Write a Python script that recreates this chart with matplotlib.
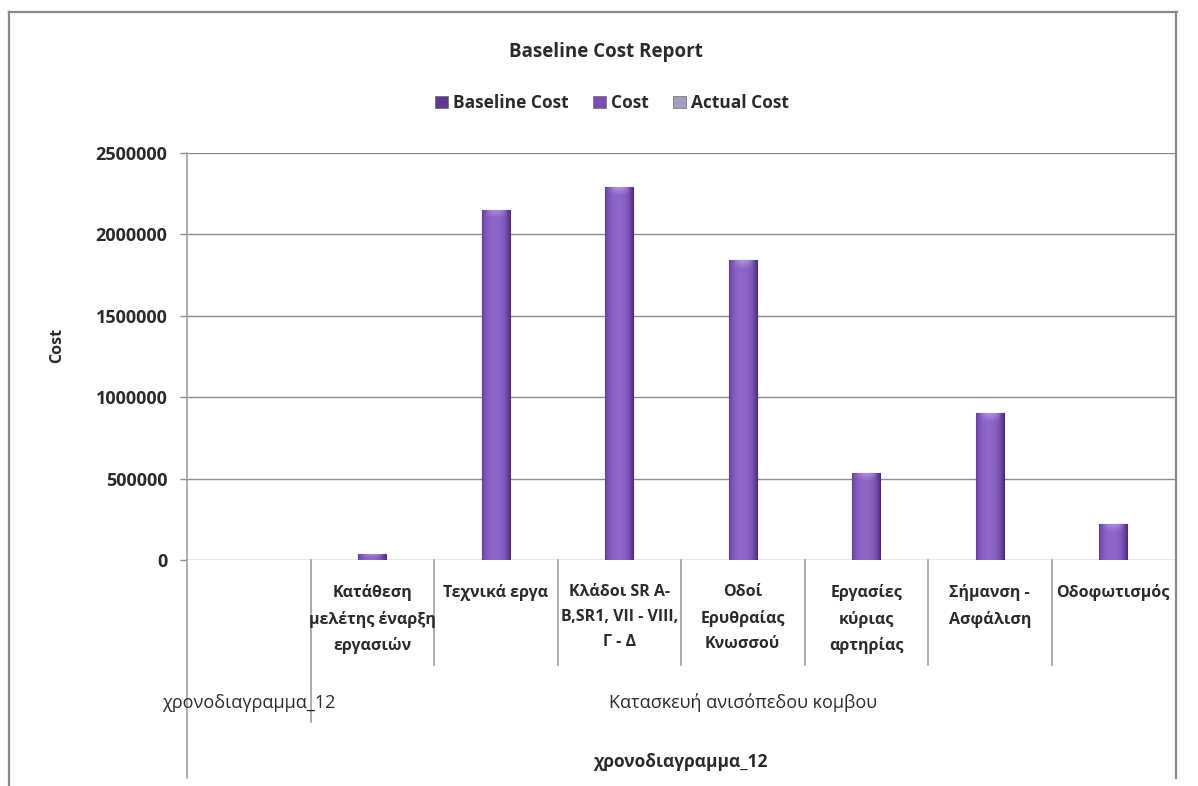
import numpy as np
import matplotlib
matplotlib.use("Agg")
import matplotlib.pyplot as plt
from matplotlib.patches import Patch
from matplotlib.lines import Line2D
from matplotlib.transforms import blended_transform_factory
from matplotlib.colors import to_rgb

plt.rcParams["font.family"] = ["Open Sans", "DejaVu Sans"]

# ---- data -------------------------------------------------------------
categories = [
    "",
    "Κατάθεση\nμελέτης έναρξη\nεργασιών",
    "Τεχνικά εργα",
    "Κλάδοι SR Α-\nΒ,SR1, VII - VIII,\nΓ - Δ",
    "Οδοί\nΕρυθραίας\nΚνωσσού",
    "Εργασίες\nκύριας\nαρτηρίας",
    "Σήμανση -\nΑσφάλιση",
    "Οδοφωτισμός",
]
cost = [0, 37000, 2150000, 2290000, 1840000, 535000, 900000, 222000]
y_ticks = [0, 500000, 1000000, 1500000, 2000000, 2500000]
group_labels = ["χρονοδιαγραμμα_12", "Κατασκευή ανισόπεδου κομβου"]
group_spans = [(0, 0), (1, 7)]
top_group_label = "χρονοδιαγραμμα_12"
series_names = ["Baseline Cost", "Cost", "Actual Cost"]
series_colors = ["#60388f", "#7b4fb4", "#a49cbf"]

# ---- figure -----------------------------------------------------------
W, H = 1198, 786
fig = plt.figure(figsize=(W / 100, H / 100), dpi=100)


def fx(px):
    return px / W


def fy(py):
    return 1 - py / H


LEFT, RIGHT, TOP, BOTTOM = 187, 1175, 153, 560
ax = fig.add_axes([fx(LEFT), fy(BOTTOM), fx(RIGHT) - fx(LEFT), fy(TOP) - fy(BOTTOM)])

x = np.arange(len(categories))
bars = ax.bar(x, cost, width=0.23, color=series_colors[1],
              edgecolor="#4a2a72", linewidth=0.8, zorder=3)

# cylinder-like shading on each bar
dark = np.array(to_rgb("#4c2c78"))
mid = np.array(to_rgb("#7d54b8"))
light = np.array(to_rgb("#8e68c8"))
cap = np.array(to_rgb("#b89ee6"))
px_per_unit = (BOTTOM - TOP) / (y_ticks[-1] - y_ticks[0])
for b in bars:
    h = b.get_height()
    if h <= 0:
        b.set_edgecolor("none")
        continue
    x0, w = b.get_x(), b.get_width()
    hp = max(int(round(h * px_per_unit)), 2)
    t = np.linspace(0, 1, 40)
    prof = np.clip(1 - (np.abs(t - 0.45) / 0.55) ** 2, 0, 1)
    row = np.where(prof[:, None] < 0.6,
                   dark + (mid - dark) * (prof[:, None] / 0.6),
                   mid + (light - mid) * ((prof[:, None] - 0.6) / 0.4))
    img = np.repeat(row[None, :, :], hp, axis=0)
    # lighter cap near the top
    capn = min(8, hp // 2)
    shape = np.clip(1 - (np.abs(t - 0.5) / 0.38) ** 2, 0, 1)[:, None]
    for k in range(capn):
        a = (1 - k / max(capn, 1)) * 0.75
        img[k] = img[k] * (1 - a * shape) + cap * (a * shape)
    im = ax.imshow(img, extent=(x0, x0 + w, 0, h), aspect="auto",
                   interpolation="bilinear", zorder=3.5)
    im.set_clip_path(b)
ax.set_xlim(-0.5, len(categories) - 0.5)
ax.set_ylim(y_ticks[0], y_ticks[-1])
ax.set_aspect("auto")

for s in ax.spines.values():
    s.set_visible(False)
ax.set_yticks(y_ticks)
ax.set_yticklabels([str(v) for v in y_ticks])
ax.set_xticks([])
ax.yaxis.grid(True, color="#8e8e8e", linewidth=1.0, zorder=0)
ax.set_axisbelow(True)
ax.tick_params(axis="y", length=5, width=1, color="#8e8e8e", pad=9,
               labelsize=13, labelcolor="#2b2b2b")
for lab in ax.get_yticklabels():
    lab.set_fontweight("bold")

fig.text(fx(57), fy(345), "Cost", rotation=90, ha="center", va="center",
         fontsize=11.5, fontweight="bold", color="#2b2b2b")

# ---- multi-level category axis -----------------------------------------
tr = blended_transform_factory(ax.transData, fig.transFigure)
line_kw = dict(color="#a0a0a0", linewidth=1.2, transform=tr, clip_on=False)

# vertical axis line down through all levels
fig.add_artist(Line2D([-0.5, -0.5], [fy(TOP), fy(778)], **line_kw))
# category dividers
group_starts = {s for s, _ in group_spans}
for i in range(1, len(categories)):
    bottom = 722 if i in group_starts else 665
    fig.add_artist(Line2D([i - 0.5, i - 0.5], [fy(BOTTOM), fy(bottom)], **line_kw))

for i, lab in enumerate(categories):
    if lab:
        fig.text(i, fy(584), lab, transform=tr, ha="center", va="top",
                 fontsize=11.5, fontweight="bold", color="#2b2b2b",
                 linespacing=1.75)

for (s, e), lab in zip(group_spans, group_labels):
    fig.text((s + e) / 2, fy(703), lab, transform=tr, ha="center",
             va="center", fontsize=13, color="#2b2b2b")

fig.text((len(categories) - 1) / 2, fy(762), top_group_label, transform=tr,
         ha="center", va="center", fontsize=12.5, fontweight="bold",
         color="#2b2b2b")

# ---- chart frame ------------------------------------------------------
frame_kw = dict(color="#8a8a8a", linewidth=1.6, transform=fig.transFigure)
fig.add_artist(Line2D([fx(9), fx(1177)], [fy(12), fy(12)], **frame_kw))
fig.add_artist(Line2D([fx(9), fx(9)], [fy(12), fy(786)], **frame_kw))
fig.add_artist(Line2D([fx(1176), fx(1176)], [fy(12), fy(778)], **frame_kw))

# ---- title & legend ---------------------------------------------------
fig.text(fx(606), fy(52), "Baseline Cost Report", ha="center", va="center",
         fontsize=13.5, fontweight="bold", color="#2b2b2b")

handles = [Patch(facecolor=c, edgecolor="#555555", linewidth=0.4)
           for c in series_colors]
fig.legend(handles, series_names, ncol=3, frameon=False, loc="center",
           bbox_to_anchor=(fx(612), fy(103)), handlelength=0.75,
           handleheight=0.75, handletextpad=0.3, columnspacing=1.4,
           prop={"size": 12.5, "weight": "bold"}, labelcolor="#2b2b2b")

fig.savefig("out.png", dpi=100, facecolor="white")
